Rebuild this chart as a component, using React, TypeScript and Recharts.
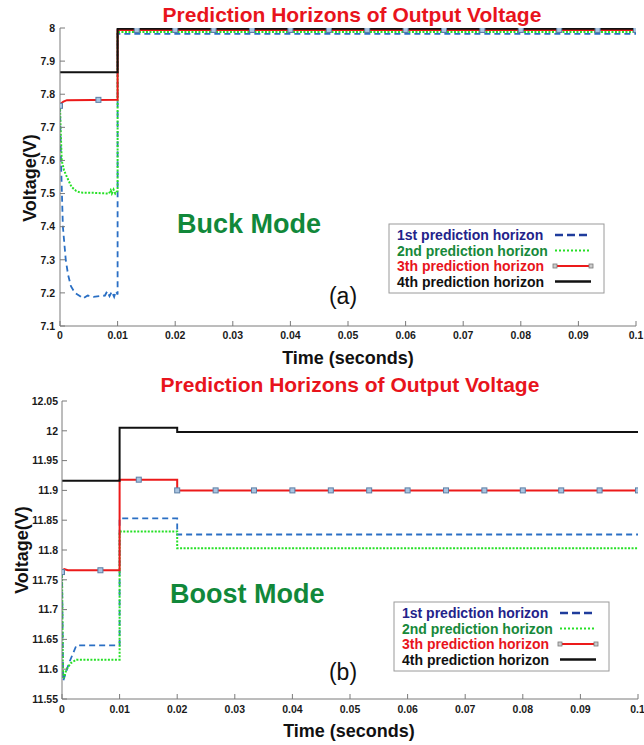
import React from 'react';
import { ComposedChart, Line, Scatter, XAxis, YAxis } from 'recharts';

const FONT = '"Liberation Sans", Arial, Helvetica, sans-serif';

type Pt = [number, number];

const timeTicks = [0, 0.01, 0.02, 0.03, 0.04, 0.05, 0.06, 0.07, 0.08, 0.09, 0.1];
const buckTicks = [7.1, 7.2, 7.3, 7.4, 7.5, 7.6, 7.7, 7.8, 7.9, 8];
const boostTicks = [11.55, 11.6, 11.65, 11.7, 11.75, 11.8, 11.85, 11.9, 11.95, 12, 12.05];

const markerTimes = [0, 0.00667, 0.01333, 0.02, 0.02667, 0.03333, 0.04, 0.04667, 0.05333, 0.06, 0.06667, 0.07333, 0.08, 0.08667, 0.09333, 0.1];

// (a) buck mode
const buckH1: Pt[] = [
  [0, 7.765], [0.0001, 7.66], [0.0002, 7.58], [0.0005, 7.4], [0.001, 7.3], [0.0014, 7.255],
  [0.0019, 7.22], [0.0026, 7.2], [0.0035, 7.19], [0.004, 7.183], [0.0048, 7.192], [0.0058, 7.188],
  [0.0068, 7.19], [0.0078, 7.192], [0.0082, 7.205], [0.0086, 7.19], [0.009, 7.204], [0.0094, 7.188],
  [0.0097, 7.205], [0.01, 7.195], [0.01, 7.982], [0.1, 7.982],
];
const buckH2: Pt[] = [
  [0, 7.765], [0.0001, 7.7], [0.0003, 7.6], [0.0007, 7.57], [0.0012, 7.55], [0.002, 7.52],
  [0.0028, 7.508], [0.0035, 7.503], [0.006, 7.502], [0.0085, 7.5], [0.0088, 7.51], [0.009, 7.5],
  [0.0093, 7.512], [0.0096, 7.5], [0.01, 7.508], [0.01, 7.988], [0.1, 7.988],
];
const buckH3: Pt[] = [
  [0, 7.765], [0.0002, 7.772], [0.0006, 7.778], [0.0012, 7.782], [0.01, 7.783], [0.01, 7.994], [0.1, 7.994],
];
const buckH4: Pt[] = [[0, 7.866], [0.01, 7.866], [0.01, 7.998], [0.1, 7.998]];
const buckMarks = [7.765, 7.783, 7.994, 7.994, 7.994, 7.994, 7.994, 7.994, 7.994, 7.994, 7.994, 7.994, 7.994, 7.994, 7.994, 7.994];

// (b) boost mode
const boostH1: Pt[] = [
  [0, 11.763], [0.0002, 11.58], [0.0008, 11.598], [0.0012, 11.61], [0.0025, 11.64], [0.01, 11.64],
  [0.01, 11.853], [0.02, 11.853], [0.02, 11.826], [0.1, 11.826],
];
const boostH2: Pt[] = [
  [0, 11.763], [0.00015, 11.6], [0.0003, 11.585], [0.0008, 11.6], [0.0015, 11.61], [0.0025, 11.616],
  [0.01, 11.616], [0.01, 11.831], [0.02, 11.831], [0.02, 11.803], [0.1, 11.803],
];
const boostH3: Pt[] = [
  [0, 11.765], [0.0004, 11.768], [0.001, 11.766], [0.01, 11.766], [0.01, 11.918], [0.02, 11.918],
  [0.02, 11.9], [0.1, 11.9],
];
const boostH4: Pt[] = [[0, 11.916], [0.01, 11.916], [0.01, 12.005], [0.02, 12.005], [0.02, 11.998], [0.1, 11.998]];
const boostMarks = [11.763, 11.766, 11.918, 11.9, 11.9, 11.9, 11.9, 11.9, 11.9, 11.9, 11.9, 11.9, 11.9, 11.9, 11.9, 11.9];

const legendNames = ['1st prediction horizon', '2nd prediction horizon', '3th prediction horizon', '4th prediction horizon'];
const legendColors = ['#23238a', '#17893a', '#e8141c', '#111111'];

const toPts = (a: Pt[]) => a.map(([t, v]) => ({ t, v }));
const fmt = (v: number) => String(+v.toFixed(3));

const C_BLUE = '#2a6fc4';
const C_GREEN = '#26e026';
const C_RED = '#ec1a1a';
const C_BLACK = '#111111';
const AXIS = '#7a7a7a';
const tickStyle = { fill: '#1a1a1a', fontSize: 10.5, fontWeight: 700, fontFamily: FONT };

const Square = (p: any) => (
  <rect x={p.cx - 2.5} y={p.cy - 2.5} width={5} height={5} fill="#a9c3df" stroke="#5b7fa6" strokeWidth={1} />
);

function Legend({ x, y }: { x: number; y: number }) {
  const rows = [11, 26.5, 42, 57.5];
  return (
    <g fontFamily={FONT} fontWeight={700} fontSize={14}>
      <rect x={x} y={y} width={215} height={69} fill="#fff" stroke="#9a9a9a" strokeWidth={1} />
      {legendNames.map((n, i) => (
        <text key={n} x={x + 8} y={y + rows[i] + 5} fill={legendColors[i]}>{n}</text>
      ))}
      <line x1={x + 166} x2={x + 202} y1={y + rows[0]} y2={y + rows[0]} stroke="#1f3c9c" strokeWidth={2.5} strokeDasharray="8 4" />
      <line x1={x + 166} x2={x + 202} y1={y + rows[1]} y2={y + rows[1]} stroke={C_GREEN} strokeWidth={2} strokeDasharray="2 2" />
      <line x1={x + 166} x2={x + 202} y1={y + rows[2]} y2={y + rows[2]} stroke={C_RED} strokeWidth={2} />
      <rect x={x + 164} y={y + rows[2] - 2} width={4} height={4} fill="#ccc" stroke="#777" strokeWidth={0.8} />
      <rect x={x + 200} y={y + rows[2] - 2} width={4} height={4} fill="#ccc" stroke="#777" strokeWidth={0.8} />
      <line x1={x + 166} x2={x + 202} y1={y + rows[3]} y2={y + rows[3]} stroke={C_BLACK} strokeWidth={2.5} />
    </g>
  );
}

interface PanelProps {
  top: number;
  height: number;
  marginTop: number;
  marginRight: number;
  yWidth: number;
  yTickMargin: number;
  xTickMargin: number;
  yTicks: number[];
  h1: Pt[];
  h2: Pt[];
  h3: Pt[];
  h4: Pt[];
  marks: number[];
  titleX: number;
  titleY: number;
  mode: string;
  modeX: number;
  modeY: number;
  tag: string;
  tagY: number;
  legendX: number;
  legendY: number;
  xLabelX: number;
  xLabelY: number;
  yLabelX: number;
}

function Panel(p: PanelProps) {
  const dom: [number, number] = [p.yTicks[0], p.yTicks[p.yTicks.length - 1]];
  const markData = markerTimes.map((t, i) => ({ t, v: p.marks[i] }));
  return (
    <div style={{ position: 'absolute', left: 0, top: p.top, width: 644, height: p.height }}>
      <ComposedChart width={644} height={p.height} margin={{ top: p.marginTop, right: p.marginRight, bottom: 0, left: 0 }}>
        <XAxis xAxisId="x" dataKey="t" type="number" domain={[0, 0.1]} ticks={timeTicks} allowDataOverflow
          tickFormatter={fmt} tickSize={-5} tickMargin={p.xTickMargin} height={46} stroke={AXIS} tick={tickStyle} />
        <XAxis xAxisId="xt" orientation="top" dataKey="t" type="number" domain={[0, 0.1]} ticks={timeTicks}
          allowDataOverflow tick={false} tickSize={-5} height={0} stroke={AXIS} />
        <YAxis yAxisId="y" dataKey="v" type="number" domain={dom} ticks={p.yTicks} allowDataOverflow
          tickFormatter={fmt} tickSize={-5} tickMargin={p.yTickMargin} width={p.yWidth} stroke={AXIS} tick={tickStyle} />
        <YAxis yAxisId="yr" orientation="right" dataKey="v" type="number" domain={dom} ticks={p.yTicks}
          allowDataOverflow tick={false} tickSize={-5} width={0} stroke={AXIS} />
        <Line xAxisId="x" yAxisId="y" data={toPts(p.h1)} dataKey="v" type="linear" stroke={C_BLUE} strokeWidth={1.8}
          strokeDasharray="6 4" dot={false} activeDot={false} isAnimationActive={false} />
        <Line xAxisId="x" yAxisId="y" data={toPts(p.h2)} dataKey="v" type="linear" stroke={C_GREEN} strokeWidth={2}
          strokeDasharray="2 1.5" dot={false} activeDot={false} isAnimationActive={false} />
        <Line xAxisId="x" yAxisId="y" data={toPts(p.h3)} dataKey="v" type="linear" stroke={C_RED} strokeWidth={2}
          dot={false} activeDot={false} isAnimationActive={false} />
        <Line xAxisId="x" yAxisId="y" data={toPts(p.h4)} dataKey="v" type="linear" stroke={C_BLACK} strokeWidth={2}
          dot={false} activeDot={false} isAnimationActive={false} />
        <Scatter xAxisId="x" yAxisId="y" data={markData} dataKey="v" shape={Square} isAnimationActive={false} />
      </ComposedChart>
      <svg width={644} height={p.height} style={{ position: 'absolute', left: 0, top: 0, pointerEvents: 'none' }}>
        <text x={p.titleX} y={p.titleY} textAnchor="middle" fontFamily={FONT} fontWeight={700} fontSize={21} fill="#e8141c">
          Prediction Horizons of Output Voltage
        </text>
        <text x={p.modeX} y={p.modeY} fontFamily={FONT} fontWeight={700} fontSize={27} fill="#11883a">{p.mode}</text>
        <text x={343} y={p.tagY} textAnchor="middle" fontFamily={FONT} fontSize={23} fill="#111">{p.tag}</text>
        <Legend x={p.legendX} y={p.legendY} />
        <text x={p.xLabelX} y={p.xLabelY} textAnchor="middle" fontFamily={FONT} fontWeight={700} fontSize={18} fill="#111">
          Time (seconds)
        </text>
        <text x={p.yLabelX} y={178} textAnchor="middle" fontFamily={FONT} fontWeight={700} fontSize={18} fill="#111"
          transform={`rotate(-90, ${p.yLabelX}, 178)`}>
          Voltage(V)
        </text>
      </svg>
    </div>
  );
}

export default function App() {
  return (
    <div style={{ position: 'absolute', left: 0, top: 0, width: 644, height: 745, background: '#fff' }}>
      <Panel top={0} height={372} marginTop={28} marginRight={8} yWidth={60} yTickMargin={10} xTickMargin={11}
        yTicks={buckTicks} h1={buckH1} h2={buckH2} h3={buckH3} h4={buckH4} marks={buckMarks}
        titleX={352} titleY={22} mode="Buck Mode" modeX={177} modeY={233} tag="(a)" tagY={304}
        legendX={389} legendY={224} xLabelX={348} xLabelY={364} yLabelX={36} />
      <Panel top={372} height={373} marginTop={29} marginRight={6} yWidth={62} yTickMargin={9} xTickMargin={12}
        yTicks={boostTicks} h1={boostH1} h2={boostH2} h3={boostH3} h4={boostH4} marks={boostMarks}
        titleX={350} titleY={20} mode="Boost Mode" modeX={170} modeY={231} tag="(b)" tagY={308}
        legendX={394} legendY={230} xLabelX={349} xLabelY={365} yLabelX={28} />
    </div>
  );
}
